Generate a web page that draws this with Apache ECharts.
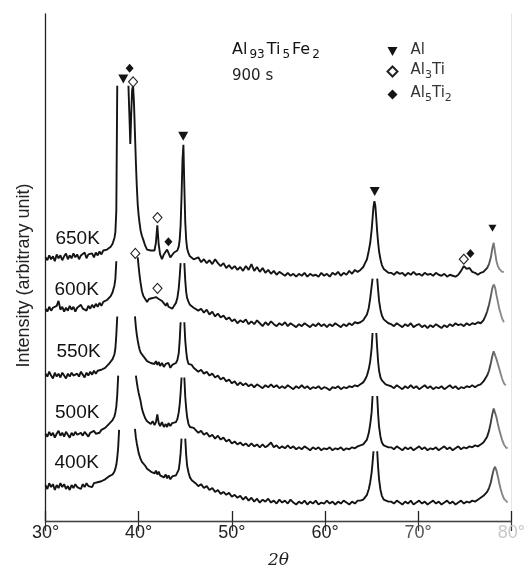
<!DOCTYPE html>
<html>
<head>
<meta charset="utf-8">
<script src="https://cdn.jsdelivr.net/npm/echarts@6.0.0/dist/echarts.min.js"></script>
<style>
  html, body { margin: 0; padding: 0; background: #fff; }
  #chart { width: 528px; height: 574px; }
</style>
</head>
<body>
<div id="chart"></div>
<script>
// 2θ grid shared by every scan (degrees)
const twoTheta = [
  30, 30.2, 30.4, 30.6, 30.8, 31, 31.2, 31.4, 31.6, 31.8, 32, 32.2, 32.4, 32.6, 32.8, 33, 33.2, 33.4, 33.6, 33.8,
  34, 34.2, 34.4, 34.6, 34.8, 35, 35.2, 35.4, 35.6, 35.8, 36, 36.2, 36.4, 36.6, 36.8,
  37, 37.2, 37.4, 37.5, 37.6, 37.7, 37.8, 37.9, 38, 38.9, 39, 39.1, 39.2, 39.3, 39.4, 39.5, 39.6, 39.7, 39.8, 39.9,
  40, 40.1, 40.2, 40.35, 40.5,
  40.7, 40.9, 41.1, 41.3, 41.5, 41.7, 41.85, 42, 42.15, 42.3, 42.5, 42.7, 42.9, 43.05, 43.2, 43.4, 43.6, 43.8, 44,
  44.15, 44.3, 44.4, 44.5, 44.6, 44.7, 44.8, 44.9, 45, 45.1, 45.2, 45.35, 45.5, 45.7, 45.9,
  46.1, 46.4, 46.7, 47, 47.3, 47.6, 47.9, 48.2, 48.5, 48.8, 49.1, 49.4, 49.7, 50, 50.3, 50.6, 50.9, 51.2, 51.5, 51.8,
  52.1, 52.4, 52.7, 53, 53.3, 53.6, 53.9, 54.2, 54.5, 54.8, 55.1, 55.4, 55.7, 56, 56.3, 56.6, 56.9, 57.2, 57.5, 57.8,
  58.1, 58.4, 58.7, 59, 59.3, 59.6, 59.9, 60.2, 60.5, 60.8, 61.1, 61.4, 61.7, 62, 62.3, 62.6, 62.9, 63.2, 63.5,
  63.8, 64.1, 64.3, 64.5, 64.7, 64.85, 65, 65.1, 65.2, 65.3, 65.4, 65.5, 65.6, 65.7, 65.8, 65.95, 66.1, 66.3, 66.5, 66.8,
  67.1, 67.4, 67.7, 68, 68.3, 68.6, 68.9, 69.2, 69.5, 69.8, 70.1, 70.4, 70.7, 71, 71.3, 71.6, 71.9, 72.2, 72.5, 72.8,
  73.1, 73.4, 73.7, 74, 74.3, 74.6, 74.9, 75.2, 75.5, 75.8, 76.1, 76.4, 76.7, 77,
  77.2, 77.4, 77.6, 77.8, 77.95, 78.1, 78.25, 78.4, 78.55, 78.7, 78.85, 79, 79.2, 79.4, 79.6
]

// stacked intensities (arbitrary unit, offsets included); null = peak clipped
const i650 = [
  272, 269, 274, 270, 273, 268, 275, 271, 274, 269, 273, 276, 270, 274, 271, 276, 272, 275, 270, 274,
  272, 277, 271, 275, 273, 276, 272, 277, 274, 278, 275, 279, 277, 280, 282,
  283, 286, 292, 298, 320, 449, null, null, null, 449, 420, 389, 420, 445, 449, 430, 400, 370, 345, 326,
  315, 307, 300, 294, 290,
  284, 280, 282, 279, 281, 279, 287, 305, 285, 275, 270, 275, 277, 280, 279, 272, 274, 277, 278,
  279, 283, 290, 305, 335, 372, 388, 345, 308, 290, 281, 276, 273, 275, 270,
  269, 272, 267, 270, 266, 269, 265, 270, 266, 263, 266, 261, 264, 260, 263, 259, 262, 258, 263, 259,
  265, 258, 262, 257, 261, 256, 259, 255, 258, 254, 257, 255, 253, 256, 253, 255, 252, 255, 253, 256,
  252, 255, 253, 254, 252, 256, 253, 255, 252, 256, 254, 257, 253, 256, 254, 258, 255, 259, 257,
  259, 262, 266, 270, 279, 287, 300, 312, 324, 330, 325, 312, 298, 287, 278, 270, 264, 260, 258, 256,
  256, 254, 257, 255, 256, 253, 256, 254, 257, 254, 255, 253, 256, 254, 255, 253, 256, 254, 253, 255,
  252, 254, 253, 252, 254, 258, 263, 260, 261, 257, 256, 254, 256, 257,
  258, 261, 265, 272, 281, 287, 277, 268, 263, 260, 258, 257, 257, null, null
]
const i600 = [
  219, 216, 221, 217, 220, 218, 222, 227, 218, 221, 216, 220, 217, 222, 218, 221, 216, 220, 218, 223,
  219, 221, 217, 222, 219, 223, 220, 224, 221, 225, 222, 226, 224, 228, 230,
  232, 236, 243, 250, 268, null, null, null, null, null, null, null, null, null, null, null, null, null, null, 272,
  262, 253, 246, 237, 232,
  230, 226, 229, 227, 230, 228, 231, 233, 229, 231, 227, 225, 222, 225, 221, 223, 219, 222, 225,
  230, 240, 252, 266, null, null, null, 266, 248, 236, 230, 226, 223, 224, 220,
  221, 217, 219, 215, 218, 213, 216, 211, 214, 210, 212, 208, 210, 206, 208, 204, 207, 205, 208, 203,
  206, 203, 207, 204, 201, 205, 202, 206, 203, 201, 204, 202, 205, 201, 204, 202, 200, 203, 201, 204,
  202, 200, 203, 201, 204, 201, 203, 200, 203, 201, 204, 202, 200, 203, 201, 204, 202, 205, 204,
  205, 207, 209, 213, 220, 230, 242, 250, null, null, null, null, 250, 238, 227, 218, 212, 208, 206, 204,
  203, 201, 204, 202, 200, 203, 201, 204, 200, 202, 203, 200, 202, 199, 202, 200, 203, 201, 199, 202,
  200, 203, 201, 204, 202, 203, 201, 204, 202, 204, 203, 205, 204, 207,
  211, 216, 223, 232, 240, 244, 241, 233, 226, 219, 214, 209, 205, null, null
]
const i550 = [
  152, 149, 154, 150, 147, 153, 149, 152, 148, 153, 150, 147, 152, 149, 153, 150, 148, 152, 149, 154,
  151, 148, 153, 150, 154, 151, 155, 152, 155, 153, 156, 155, 158, 159, 162,
  164, 167, 172, 178, 192, 211, null, null, null, null, null, null, null, null, null, null, 211, 200, 192, 186,
  181, 177, 174, 172, 170,
  168, 165, 167, 163, 165, 162, 165, 161, 164, 160, 163, 159, 162, 160, 163, 158, 161, 159, 163,
  166, 173, 186, 205, null, null, null, 205, 186, 175, 167, 162, 160, 161, 158,
  157, 154, 156, 152, 154, 150, 152, 148, 150, 146, 148, 144, 146, 142, 144, 140, 143, 140, 142, 139,
  141, 138, 141, 139, 137, 140, 138, 141, 138, 140, 137, 139, 137, 140, 138, 136, 139, 137, 140, 137,
  139, 136, 138, 137, 139, 136, 138, 137, 135, 138, 137, 139, 136, 138, 137, 139, 138, 140, 139,
  141, 143, 146, 150, 157, 165, 178, 194, null, null, null, 194, 178, 164, 155, 148, 145, 143, 141, 140,
  139, 137, 140, 138, 136, 139, 137, 140, 137, 139, 136, 138, 140, 137, 139, 136, 138, 137, 139, 136,
  138, 140, 137, 139, 136, 138, 137, 139, 138, 140, 138, 140, 141, 144,
  146, 150, 155, 163, 170, 175, 173, 167, 162, 157, 152, 147, 142, 140, null
]
const i500 = [
  90, 87, 92, 88, 91, 86, 90, 93, 88, 91, 87, 92, 89, 86, 91, 88, 92, 89, 87, 91,
  88, 92, 90, 87, 91, 89, 93, 90, 92, 91, 94, 93, 96, 98, 100,
  102, 104, 108, 112, 118, 130, 150, null, null, null, null, null, null, null, null, null, null, 150, 143, 137,
  132, 128, 124, 116, 111,
  106, 103, 104, 100, 103, 99, 102, 110, 101, 98, 102, 97, 100, 97, 101, 98, 101, 99, 102,
  105, 112, 120, 132, 148, null, null, 148, 128, 116, 107, 100, 97, 95, 96,
  94, 91, 93, 89, 91, 87, 89, 85, 88, 84, 86, 82, 84, 80, 82, 79, 81, 78, 80, 77,
  80, 77, 79, 76, 79, 76, 78, 81, 76, 78, 75, 77, 75, 78, 75, 77, 74, 76, 74, 77,
  75, 73, 76, 74, 76, 73, 75, 74, 76, 73, 75, 74, 76, 73, 75, 74, 76, 75, 77,
  78, 79, 81, 84, 91, 100, 112, 129, null, null, null, null, 129, 110, 97, 87, 81, 78, 77, 76,
  76, 74, 77, 75, 73, 76, 74, 76, 73, 75, 77, 74, 76, 73, 75, 74, 76, 73, 75, 77,
  74, 76, 73, 75, 77, 74, 76, 75, 77, 76, 78, 77, 79, 81,
  83, 87, 93, 102, 110, 116, 114, 107, 100, 94, 89, 84, 79, 76, 75
]
const i400 = [
  37, 33, 39, 35, 38, 32, 37, 34, 39, 35, 38, 33, 36, 32, 37, 34, 38, 35, 37, 33,
  38, 35, 39, 36, 38, 35, 39, 37, 40, 38, 41, 40, 43, 44, 46,
  47, 48, 51, 54, 58, 65, 76, 94, null, null, null, null, null, null, null, null, 95, 86, 80, 75,
  70, 67, 64, 61, 59,
  57, 54, 55, 51, 53, 49, 52, 48, 51, 47, 49, 45, 48, 44, 47, 43, 46, 44, 47,
  48, 53, 60, 70, 85, null, null, null, 85, 68, 57, 50, 45, 42, 40,
  39, 36, 38, 34, 36, 32, 34, 30, 32, 28, 30, 27, 29, 25, 27, 24, 26, 22, 25, 21,
  24, 20, 23, 19, 22, 20, 23, 19, 21, 18, 22, 19, 21, 18, 22, 19, 17, 20, 18, 21,
  17, 20, 18, 21, 17, 19, 18, 21, 18, 20, 17, 20, 18, 21, 19, 17, 20, 18, 21,
  21, 22, 24, 27, 33, 40, 50, 60, 72, null, null, null, 72, 55, 43, 32, 26, 22, 21, 20,
  20, 18, 21, 19, 17, 20, 18, 21, 17, 19, 21, 18, 20, 17, 19, 21, 18, 20, 17, 19,
  21, 18, 20, 17, 19, 21, 18, 20, 19, 21, 20, 22, 24, 26,
  27, 30, 34, 40, 47, 53, 56, 52, 46, 39, 33, 28, 23, 21, 19
]

const temps = ['400K', '500K', '550K', '600K', '650K']
const scans = [i400, i500, i550, i600, i650]

// phase markers [2θ, height]
const alPeaks = [[38.35, 456], [44.78, 397], [65.33, 340], [77.97, 302]]
const al3tiPeaks = [[39.4, 453], [42.02, 313], [74.89, 270], [39.64, 276], [42.02, 240]]
const al5ti2Peaks = [[39.03, 467], [43.19, 288], [75.6, 276]]

scans.forEach((s, k) => {
  if (s.length !== twoTheta.length) throw new Error(temps[k] + ' has ' + s.length + ' points')
})

// where the temperature names sit (data coords)
const labelAt = [[33.35, 60], [33.4, 112], [33.55, 175], [33.35, 239], [33.45, 291]]

const ink = '#141414'
const fade = new echarts.graphic.LinearGradient(0, 0, 1, 0, [
  { offset: 0, color: ink },
  { offset: 0.95, color: ink },
  { offset: 0.972, color: '#777' },
  { offset: 1, color: '#9a9a9a' }
])

const lineSeries = scans.map((s, k) => ({
  name: temps[k],
  type: 'line',
  symbol: 'none',
  connectNulls: false,
  lineStyle: { color: fade, width: 1.9 },
  data: twoTheta.map((x, i) => [x, s[i] == null ? '-' : s[i]])
}))

const legendText = {
  'Al': '{p|}{n|Al}',
  'Al3Ti': '{p|}{n|Al}{s|3}{n|Ti}',
  'Al5Ti2': '{p|}{n|Al}{s|5}{n|Ti}{s|2}'
}

const option = {
  animation: false,
  backgroundColor: '#fff',
  grid: { left: 45.5, right: 10.5, top: 14, bottom: 37 },
  title: [
    {
      text: '{m|Al}{s|93}{m|Ti}{s|5}{m|Fe}{s|2}',
      left: 231, top: 42, padding: 0,
      textStyle: {
        fontWeight: 'normal',
        rich: {
          m: { fontFamily: 'DejaVu Sans', fontSize: 16, fontWeight: 'normal', color: '#111', lineHeight: 18, verticalAlign: 'top', padding: [0, 1, 0, 1] },
          s: { fontFamily: 'DejaVu Sans', fontSize: 12, fontWeight: 'normal', color: '#111', lineHeight: 12, verticalAlign: 'top', padding: [7, 1, 0, 1] }
        }
      }
    },
    {
      text: '900 s',
      left: 232, top: 69, padding: 0,
      textStyle: { fontFamily: 'DejaVu Sans', fontSize: 15, fontWeight: 'normal', color: '#222' }
    }
  ],
  legend: {
    data: ['Al', 'Al3Ti', 'Al5Ti2'],
    orient: 'vertical',
    left: 386.5, top: 43, padding: 0,
    itemWidth: 10, itemHeight: 10, itemGap: 5,
    formatter: name => legendText[name],
    textStyle: {
      color: '#333',
      rich: {
        p: { width: 8 },
        n: { fontFamily: 'DejaVu Sans', fontSize: 15, color: '#333', lineHeight: 17, verticalAlign: 'top' },
        s: { fontFamily: 'DejaVu Sans', fontSize: 11, color: '#333', lineHeight: 11, verticalAlign: 'top', padding: [7, 0, 0, 0] }
      }
    }
  },
  xAxis: [
    {
      type: 'value', min: 30, max: 80, interval: 10,
      axisLine: { lineStyle: { color: '#222', width: 1.3 } },
      axisTick: { inside: true, length: 10, lineStyle: { color: '#222', width: 1.3 } },
      axisLabel: {
        formatter: '{value}°', margin: 3,
        fontFamily: 'Liberation Sans', fontSize: 18,
        color: v => (v >= 80 ? '#c8c8c8' : v >= 70 ? '#555' : '#222')
      },
      splitLine: { show: false },
      name: '2θ', nameLocation: 'middle', nameGap: 31,
      nameTextStyle: { fontFamily: 'DejaVu Serif', fontStyle: 'italic', fontSize: 17, color: '#222' }
    },
    {
      type: 'value', position: 'top', min: 30, max: 80, interval: 10,
      axisLine: { lineStyle: { color: '#444', width: 1 } },
      axisTick: { inside: true, length: 10, lineStyle: { color: '#333', width: 1.2 } },
      axisLabel: { show: false },
      splitLine: { show: false }
    }
  ],
  yAxis: [
    {
      type: 'value', min: 0, max: 523,
      axisLine: { show: true, lineStyle: { color: '#222', width: 1.3 } },
      axisTick: { show: false },
      axisLabel: { show: false },
      splitLine: { show: false },
      name: 'Intensity (arbitrary unit)', nameLocation: 'middle', nameGap: 12,
      nameTextStyle: { fontFamily: 'Liberation Sans', fontSize: 18, color: '#222', padding: [0, 16, 0, 0] }
    },
    {
      type: 'value', position: 'right', min: 0, max: 523,
      axisLine: { show: true, lineStyle: { color: '#e6e6e6', width: 1 } },
      axisTick: { show: false },
      axisLabel: { show: false },
      splitLine: { show: false }
    }
  ],
  series: [
    ...lineSeries,
    {
      name: 'Al', type: 'scatter',
      symbol: 'path://M0,0L10,0L5,9Z',
      symbolSize: v => (v[0] > 77 ? [8, 7] : [10, 9]),
      itemStyle: { color: ink, opacity: 1 },
      data: alPeaks, z: 5
    },
    {
      name: 'Al3Ti', type: 'scatter', symbol: 'diamond', symbolSize: [9, 10],
      itemStyle: { color: '#fff', borderColor: '#222', borderWidth: 1.1, opacity: 1 },
      data: al3tiPeaks, z: 5
    },
    {
      name: 'Al5Ti2', type: 'scatter', symbol: 'diamond', symbolSize: [8, 9],
      itemStyle: { color: ink, opacity: 1 },
      data: al5ti2Peaks, z: 5
    },
    {
      type: 'scatter', symbolSize: 0, silent: true, z: 6,
      itemStyle: { opacity: 1 },
      label: {
        show: true, position: 'inside', formatter: '{b}', opacity: 1,
        fontFamily: 'Liberation Sans', fontSize: 19, color: '#111',
        textBorderWidth: 0
      },
      data: temps.map((t, k) => ({ name: t, value: labelAt[k] }))
    }
  ]
}

const chart = echarts.init(document.getElementById('chart'))
chart.setOption(option)
window.addEventListener('resize', () => chart.resize())
</script>
</body>
</html>
